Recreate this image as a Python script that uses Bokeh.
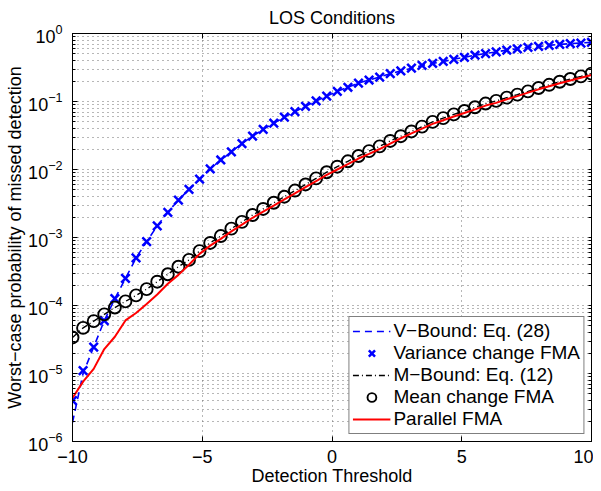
from bokeh.plotting import figure
from bokeh.models import (FixedTicker, LogAxis, LinearAxis, Legend, LegendItem,
                          LogTickFormatter)
from bokeh.embed import file_html
from bokeh.resources import INLINE
import numpy as np

# ---- data ----
threshold = np.linspace(-10, 10, 50)

variance_fma = [4.0e-6, 1.10e-5, 2.45e-5, 6.0e-5, 1.26e-4, 2.5e-4, 5.0e-4, 8.7e-4,
                1.48e-3, 2.34e-3, 3.55e-3, 5.1e-3, 7.2e-3, 1.02e-2, 1.38e-2, 1.82e-2,
                2.40e-2, 3.09e-2, 3.89e-2, 4.79e-2, 5.89e-2, 7.08e-2, 8.51e-2, 0.102,
                0.120, 0.141, 0.162, 0.186, 0.207, 0.229, 0.257, 0.282, 0.309, 0.339,
                0.363, 0.389, 0.417, 0.447, 0.479, 0.507, 0.537, 0.569, 0.596, 0.624,
                0.646, 0.668, 0.692, 0.708, 0.724, 0.741]

v_bound = [1.9e-6, 1.0e-5] + variance_fma[2:]

mean_fma = [3.39e-5, 4.68e-5, 5.89e-5, 7.41e-5, 9.33e-5, 1.15e-4, 1.41e-4, 1.74e-4,
            2.24e-4, 2.88e-4, 3.72e-4, 4.68e-4, 6.31e-4, 8.32e-4, 1.05e-3, 1.35e-3,
            1.70e-3, 2.14e-3, 2.63e-3, 3.24e-3, 3.98e-3, 4.90e-3, 6.03e-3, 7.41e-3,
            9.12e-3, 1.10e-2, 1.32e-2, 1.58e-2, 1.86e-2, 2.19e-2, 2.63e-2, 3.09e-2,
            3.63e-2, 4.27e-2, 5.01e-2, 5.69e-2, 6.46e-2, 7.24e-2, 8.22e-2, 9.33e-2,
            0.102, 0.114, 0.126, 0.141, 0.158, 0.176, 0.195, 0.214, 0.234, 0.257]

m_bound = list(mean_fma)

parallel_fma = [4.37e-6, 7.59e-6, 1.17e-5, 2.29e-5, 3.47e-5, 6.03e-5, 7.76e-5, 1.05e-4,
                1.45e-4, 2.09e-4, 2.82e-4, 3.98e-4, 5.75e-4, 7.59e-4, 9.55e-4, 1.23e-3,
                1.55e-3, 1.95e-3, 2.40e-3, 2.95e-3, 3.63e-3, 4.47e-3, 5.50e-3, 6.76e-3,
                8.32e-3, 1.00e-2, 1.20e-2, 1.45e-2, 1.70e-2, 2.00e-2, 2.40e-2, 2.88e-2,
                3.39e-2, 3.98e-2, 4.68e-2, 5.31e-2, 6.03e-2, 6.76e-2, 7.67e-2, 8.71e-2,
                9.55e-2, 0.108, 0.120, 0.135, 0.151, 0.168, 0.186, 0.204, 0.224, 0.245]

x_ticks = [-10, -5, 0, 5, 10]
x_tick_labels = {-10: "\u221210", -5: "\u22125", 0: "0", 5: "5", 10: "10"}
y_ticks = [1e-6, 1e-5, 1e-4, 1e-3, 1e-2, 1e-1, 1e0]
y_minor = [m * d for d in y_ticks[:-1] for m in range(2, 10)]

FONT = "Liberation Sans"
FS = "18px"

p = figure(width=593, height=490, y_axis_type="log",
           x_range=(-10, 10), y_range=(1e-6, 1e0),
           output_backend="svg", toolbar_location=None,
           min_border_left=72, min_border_right=2, min_border_top=32,
           min_border_bottom=49, title="LOS Conditions")

p.title.align = "center"
p.title.text_font = FONT
p.title.text_font_size = FS
p.title.text_font_style = "normal"
p.title.text_color = "black"
p.title.standoff = 11

p.outline_line_color = "black"
p.outline_line_width = 1
p.background_fill_color = "white"
p.border_fill_color = "white"

# axes
xax = p.xaxis[0]
xax.ticker = FixedTicker(ticks=x_ticks)
xax.major_label_overrides = x_tick_labels
xax.axis_label = "Detection Threshold"
yax = p.yaxis[0]
yax.ticker = FixedTicker(ticks=y_ticks, minor_ticks=y_minor)
yax.formatter = LogTickFormatter()
yax.axis_label = "Worst\u2212case probability of missed detection"

for ax in (xax, yax):
    ax.axis_label_text_font = FONT
    ax.axis_label_text_font_size = FS
    ax.axis_label_text_font_style = "normal"
    ax.axis_label_text_color = "black"
    ax.major_label_text_font = FONT
    ax.major_label_text_font_size = FS
    ax.major_label_text_color = "black"
    ax.major_tick_in = 5
    ax.major_tick_out = 0
    ax.minor_tick_in = 3
    ax.minor_tick_out = 0
    ax.axis_line_color = "black"
    ax.major_tick_line_color = "black"
    ax.minor_tick_line_color = "black"
xax.minor_tick_line_color = None
xax.major_label_standoff = 8
xax.axis_label_standoff = 0
yax.major_label_standoff = 10
yax.axis_label_standoff = 0

# box ticks on top and right (no labels): all ticks given as minor ticks
top = LinearAxis(ticker=FixedTicker(ticks=[], minor_ticks=x_ticks),
                 minor_tick_in=5, minor_tick_out=0, major_tick_line_color=None,
                 major_label_standoff=0, axis_label_standoff=0,
                 axis_line_color="black", minor_tick_line_color="black")
p.add_layout(top, "above")
right = LogAxis(ticker=FixedTicker(ticks=[], minor_ticks=y_ticks + y_minor),
                minor_tick_in=3, minor_tick_out=0, major_tick_line_color=None,
                major_label_standoff=0, axis_label_standoff=0,
                axis_line_color="black", minor_tick_line_color="black")
p.add_layout(right, "right")

# grids
GRID = "#6e6e6e"
p.xgrid.ticker = FixedTicker(ticks=x_ticks)
p.xgrid.grid_line_color = GRID
p.xgrid.grid_line_dash = "1 4"
p.ygrid.grid_line_color = GRID
p.ygrid.grid_line_dash = "1 4"
p.ygrid.minor_grid_line_color = GRID
p.ygrid.minor_grid_line_dash = "1 4"

# renderers
r_vb = p.line(threshold, v_bound, line_color="blue", line_width=1.6, line_dash="7 5")
r_vx = p.scatter(threshold, variance_fma, marker="x", size=12, line_color="blue",
                 line_width=2.5)
r_mb = p.line(threshold, m_bound, line_color="black", line_width=1.4,
              line_dash="6 3 1 3")
r_mo = p.scatter(threshold, mean_fma, marker="circle", size=12, fill_color=None,
                 line_color="black", line_width=1.9)
r_pf = p.line(threshold, parallel_fma, line_color="red", line_width=2)

legend = Legend(items=[
    LegendItem(label="V\u2212Bound: Eq. (28)", renderers=[r_vb]),
    LegendItem(label="Variance change FMA", renderers=[r_vx]),
    LegendItem(label="M\u2212Bound: Eq. (12)", renderers=[r_mb]),
    LegendItem(label="Mean change FMA", renderers=[r_mo]),
    LegendItem(label="Parallel FMA", renderers=[r_pf]),
], location="bottom_right")
legend.margin = 7
legend.padding = 3
legend.spacing = 0
legend.glyph_width = 38
legend.glyph_height = 22
legend.label_height = 22
legend.label_standoff = 3
legend.label_text_font = FONT
legend.label_text_font_size = "19px"
legend.label_text_color = "black"
legend.border_line_color = "black"
legend.border_line_width = 1
legend.background_fill_alpha = 1
p.add_layout(legend, "center")

open("out.html", "w").write(file_html(p, INLINE))
